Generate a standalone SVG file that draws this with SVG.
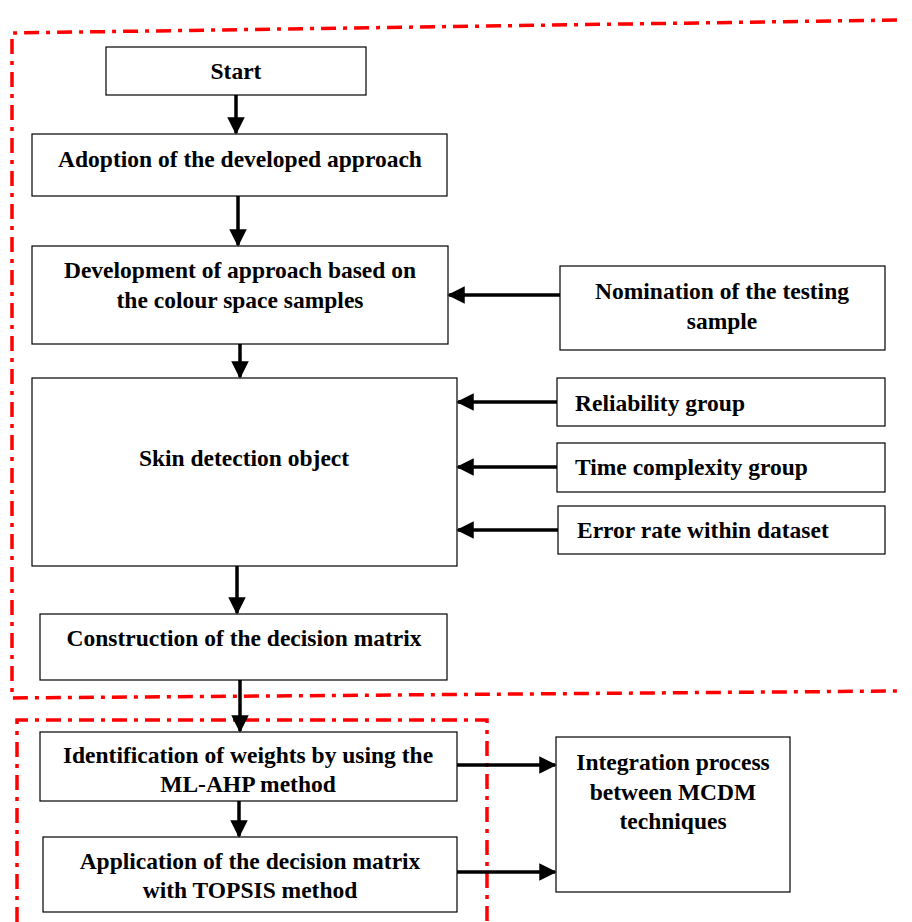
<svg xmlns="http://www.w3.org/2000/svg" width="912" height="922" viewBox="0 0 912 922">
  <style>
    .box { fill: #ffffff; stroke: #000000; stroke-width: 1.2; }
    .lbl { font-family: "Liberation Serif", "Times New Roman", serif; font-weight: bold; font-size: 23.5px; fill: #000000; text-anchor: middle; }
    .lft { text-anchor: start; }
    .edge { stroke: #000000; stroke-width: 3.5; fill: none; marker-end: url(#head); }
    .zone { stroke: #ff0000; stroke-width: 3.5; fill: none; stroke-dasharray: 15 7 4 7; }
  </style>
  <defs>
    <marker id="head" markerWidth="5" markerHeight="5" refX="4.5" refY="2.5" orient="auto" markerUnits="strokeWidth">
      <path d="M0,0 L5,2.5 L0,5 Z" fill="#000000"/>
    </marker>
  </defs>

  <rect width="912" height="922" fill="#ffffff"/>

  <!-- dash-dot boundaries -->
  <g id="zones">
    <polyline class="zone" points="897,20 12,33 12,698 900,691"/>
    <polyline class="zone" points="17,922 17,720 487,720 487,922"/>
  </g>

  <g id="start">
    <rect class="box" x="106" y="47" width="260" height="48"/>
    <text class="lbl" x="236" y="79">Start</text>
  </g>
  <g id="adoption">
    <rect class="box" x="32" y="134" width="415" height="62"/>
    <text class="lbl" x="240" y="167">Adoption of the developed approach</text>
  </g>
  <g id="development">
    <rect class="box" x="32" y="246" width="416" height="98"/>
    <text class="lbl" x="240" y="278">Development of approach based on</text>
    <text class="lbl" x="240" y="308">the colour space samples</text>
  </g>
  <g id="nomination">
    <rect class="box" x="560" y="266" width="325" height="84"/>
    <text class="lbl" x="722" y="299">Nomination of the testing</text>
    <text class="lbl" x="722" y="329">sample</text>
  </g>
  <g id="skin">
    <rect class="box" x="32" y="378" width="425" height="188"/>
    <text class="lbl" x="244" y="466">Skin detection object</text>
  </g>
  <g id="reliability">
    <rect class="box" x="557" y="378" width="328" height="48"/>
    <text class="lbl lft" x="575" y="411">Reliability group</text>
  </g>
  <g id="time">
    <rect class="box" x="557" y="443" width="328" height="49"/>
    <text class="lbl lft" x="575" y="475">Time complexity group</text>
  </g>
  <g id="error">
    <rect class="box" x="558" y="506" width="327" height="48"/>
    <text class="lbl lft" x="577" y="538">Error rate within dataset</text>
  </g>
  <g id="construction">
    <rect class="box" x="40" y="614" width="407" height="66"/>
    <text class="lbl" x="244" y="646">Construction of the decision matrix</text>
  </g>
  <g id="identification">
    <rect class="box" x="40" y="732" width="417" height="69"/>
    <text class="lbl" x="248" y="763">Identification of weights by using the</text>
    <text class="lbl" x="248" y="792">ML-AHP method</text>
  </g>
  <g id="application">
    <rect class="box" x="43" y="837" width="414" height="75"/>
    <text class="lbl" x="250" y="869">Application of the decision matrix</text>
    <text class="lbl" x="250" y="898">with TOPSIS method</text>
  </g>
  <g id="integration">
    <rect class="box" x="556" y="737" width="234" height="155"/>
    <text class="lbl" x="673" y="770">Integration process</text>
    <text class="lbl" x="673" y="800">between MCDM</text>
    <text class="lbl" x="673" y="829">techniques</text>
  </g>

  <g id="connectors">
    <line class="edge" x1="236" y1="95" x2="236" y2="133"/>
    <line class="edge" x1="238" y1="196" x2="238" y2="245"/>
    <line class="edge" x1="240" y1="344" x2="240" y2="377"/>
    <line class="edge" x1="237" y1="566" x2="237" y2="613"/>
    <line class="edge" x1="240" y1="680" x2="240" y2="731"/>
    <line class="edge" x1="239" y1="801" x2="239" y2="836"/>
    <line class="edge" x1="560" y1="295" x2="449" y2="295"/>
    <line class="edge" x1="557" y1="402" x2="458" y2="402"/>
    <line class="edge" x1="557" y1="467" x2="458" y2="467"/>
    <line class="edge" x1="558" y1="530" x2="458" y2="530"/>
    <line class="edge" x1="457" y1="765" x2="555" y2="765"/>
    <line class="edge" x1="457" y1="872" x2="555" y2="872"/>
  </g>
</svg>
